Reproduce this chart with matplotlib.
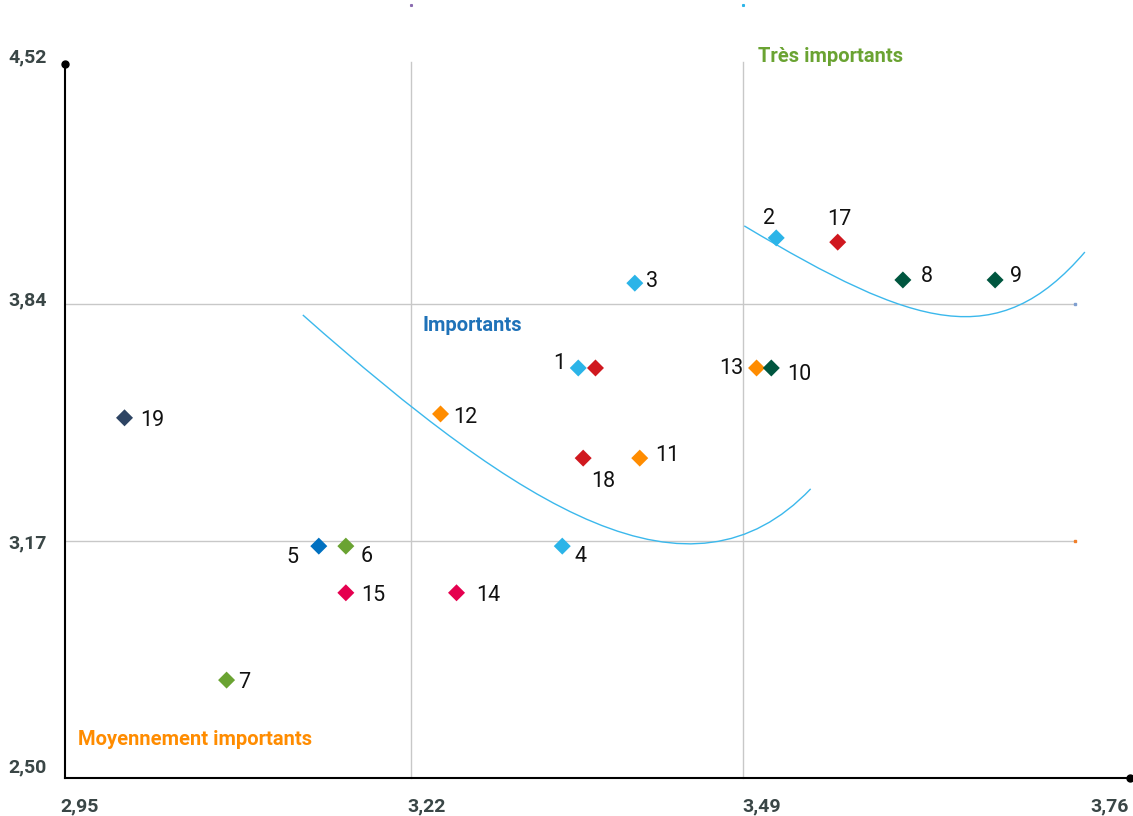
import matplotlib.pyplot as plt
from matplotlib.path import Path
from matplotlib.patches import PathPatch
from matplotlib.transforms import ScaledTranslation

plt.rcParams['font.family'] = ['Roboto', 'DejaVu Sans']

# data
labels = ['1', '', '2', '17', '3', '8', '9', '13', '10', '19',
          '12', '18', '11', '5', '6', '4', '15', '14', '7']
xs = [3.356, 3.370, 3.517, 3.567, 3.402, 3.620, 3.695, 3.501, 3.513, 2.987,
      3.244, 3.360, 3.406, 3.145, 3.167, 3.343, 3.167, 3.257, 3.070]
ys = [3.660, 3.660, 4.028, 4.016, 3.900, 3.909, 3.909, 3.660, 3.660, 3.519,
      3.530, 3.405, 3.405, 3.156, 3.156, 3.156, 3.024, 3.024, 2.777]
colors = ['#2bb4e8', '#d0181f', '#2bb4e8', '#d0181f', '#2bb4e8', '#00563f', '#00563f',
          '#ff8c00', '#00563f', '#2d4463', '#ff8c00', '#d0181f', '#ff8c00',
          '#0070c0', '#6aa332', '#2bb4e8', '#e5004f', '#e5004f', '#6aa332']

x_ticks = [2.95, 3.22, 3.49, 3.76]
y_ticks = [2.50, 3.17, 3.84, 4.52]

# trend curves as cubic bezier control points (data coords)
curve_low = [(3.132, 3.810), (3.311, 3.258), (3.447, 2.961), (3.545, 3.318)]
curve_high = [(3.491, 4.062), (3.630, 3.773), (3.697, 3.700), (3.768, 3.988)]

zones = [('Très importants', 3.561, 4.540, '#6aa332'),
         ('Importants', 3.270, 3.779, '#1f72b8'),
         ('Moyennement importants', 3.044, 2.608, '#ff8c00')]

# label offsets in pixels (dx right, dy down)
offs = {'1': (-19, -7), '2': (-7, -22), '17': (2, -26), '3': (17, -5), '8': (24, -6),
        '9': (21, -6), '13': (-25, -2), '10': (28, 4), '19': (28, 0), '12': (25, 1),
        '18': (20, 20), '11': (28, -6), '5': (-26, 8), '6': (21, 7), '4': (18, 7),
        '15': (27, 0), '14': (32, 0), '7': (18, -1)}

fig = plt.figure(figsize=(11.33, 8.16), dpi=100)
ax = fig.add_axes([65 / 1133, 38 / 816, 1065 / 1133, 714 / 816])
x0, x1 = 2.9386, 3.8047
ax.set_xlim(x0, x1)
ax.set_ylim(2.50, 4.52)

grid_c = '#c8c8c8'
for gx in [3.22, 3.49]:
    ax.axvline(gx, ymin=0, ymax=1.003, color=grid_c, lw=1, zorder=1, clip_on=False)
ax.hlines([3.84, 3.17], x0, 3.76, color=grid_c, lw=1, zorder=1)
ax.plot([3.76], [3.84], 's', ms=2, color='#7f9fd0', zorder=1)
ax.plot([3.76], [3.17], 's', ms=2, color='#f07f2a', zorder=1)
ax.plot([3.22], [4.687], 's', ms=1.2, color='#8a6bb0', clip_on=False)
ax.plot([3.49], [4.687], 's', ms=1.2, color='#2bb4e8', clip_on=False)

for pts in [curve_low, curve_high]:
    path = Path(pts, [Path.MOVETO, Path.CURVE4, Path.CURVE4, Path.CURVE4])
    ax.add_patch(PathPatch(path, fill=False, edgecolor='#3bb8ec', lw=1, zorder=2))

ax.scatter(xs, ys, marker='D', s=75, c=colors, edgecolors='none', zorder=3)
for lab, x, y in zip(labels, xs, ys):
    if not lab:
        continue
    dx, dy = offs[lab]
    # +3 px: va='center' counts the descent, digits sit a bit high otherwise
    ax.annotate(lab, (x, y), xytext=(dx, -dy - 3), textcoords='offset pixels',
                ha='center', va='center', fontsize=15.5, color='#111111')

for txt, x, y, c in zones:
    ax.text(x, y, txt, ha='center', va='center', fontsize=14.5,
            fontweight='bold', color=c)

for s in ['top', 'right']:
    ax.spines[s].set_visible(False)
for s in ['left', 'bottom']:
    ax.spines[s].set_linewidth(1.5)
    ax.spines[s].set_color('black')
ax.plot([x0], [4.52], 'o', ms=5, color='black', clip_on=False, zorder=5)
ax.plot([x1], [2.50], 'o', ms=5, color='black', clip_on=False, zorder=5)

tick_c = '#3a4646'
ax.set_xticks(x_ticks, [f'{v:.2f}'.replace('.', ',') for v in x_ticks])
ax.set_yticks(y_ticks, [f'{v:.2f}'.replace('.', ',') for v in y_ticks])
ax.tick_params(length=0, labelsize=14, labelcolor=tick_c)
ax.tick_params(axis='x', pad=14)
ax.tick_params(axis='y', pad=13)
for lbl in ax.get_xticklabels() + ax.get_yticklabels():
    lbl.set_fontweight('bold')

x_shift = [1, 16, 19, 35]
y_shift = [-13, 0, -6, -9]
for lbl, d in zip(ax.get_xticklabels(), x_shift):
    lbl.set_transform(lbl.get_transform() + ScaledTranslation(d / 100, 0, fig.dpi_scale_trans))
for lbl, d in zip(ax.get_yticklabels(), y_shift):
    lbl.set_transform(lbl.get_transform() + ScaledTranslation(0, -d / 100, fig.dpi_scale_trans))

fig.savefig('out.png', dpi=100)
